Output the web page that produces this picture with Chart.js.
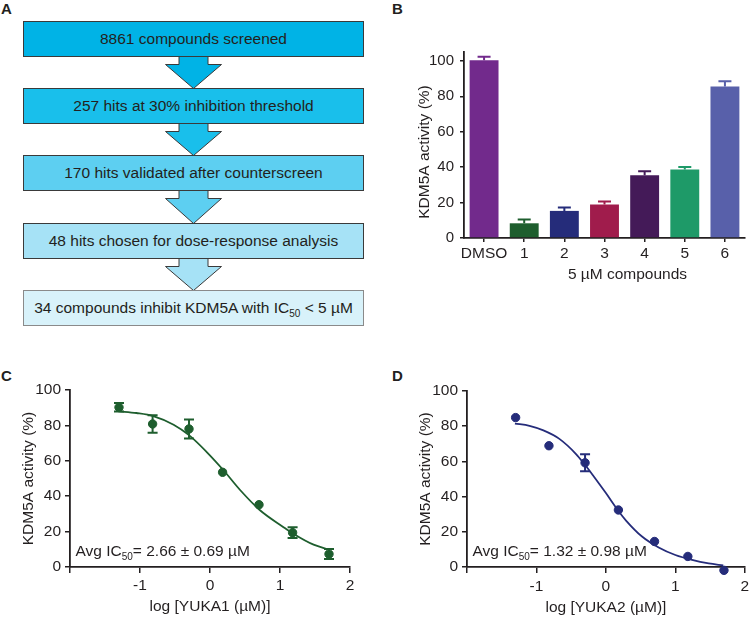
<!DOCTYPE html>
<html>
<head>
<meta charset="utf-8">
<script src="https://cdn.jsdelivr.net/npm/chart.js@4.4.1/dist/chart.umd.min.js"></script>
<style>
  html, body { margin: 0; padding: 0; background: #fff; }
  body { width: 750px; height: 618px; position: relative; overflow: hidden;
         font-family: "Liberation Sans", Arial, sans-serif; color: #231f20; }
  .lbl { position: absolute; font-weight: bold; font-size: 15px; line-height: 15px; }
  .box { position: absolute; left: 23px; width: 341px; height: 36px; box-sizing: border-box;
         border: 1px solid #3a3a3a; display: flex; align-items: center; justify-content: center;
         font-size: 15.5px; z-index: 2; }
  .box sub { font-size: 10px; vertical-align: -4px; line-height: 0; }
  #arrows { position: absolute; left: 0; top: 0; z-index: 1; }
  canvas { position: absolute; }
</style>
</head>
<body>
<div class="lbl" style="left:1px;top:1px">A</div>
<div class="lbl" style="left:392px;top:1px">B</div>
<div class="lbl" style="left:1px;top:368px">C</div>
<div class="lbl" style="left:392px;top:368px">D</div>

<svg id="arrows" width="375" height="340"></svg>

<canvas id="chartB" width="350" height="290" style="left:400px;top:0"></canvas>
<canvas id="chartC" width="375" height="248" style="left:0;top:370px"></canvas>
<canvas id="chartD" width="375" height="248" style="left:375px;top:370px"></canvas>

<script>
// ---- panel A: screening funnel
const flowSteps = [
  '8861 compounds screened',
  '257 hits at 30% inhibition threshold',
  '170 hits validated after counterscreen',
  '48 hits chosen for dose-response analysis',
  '34 compounds inhibit KDM5A with IC<sub>50</sub> &lt; 5 µM'
];
const flowColors = ['#00b3e6', '#19bfeb', '#5dcff1', '#a6e2f6', '#d8f2fa'];

// ---- panel B: single dose screen (5 µM)
const compounds = ['DMSO', '1', '2', '3', '4', '5', '6'];
const activity = [100.4, 8.3, 15.3, 18.9, 35.4, 38.6, 85.5];
const activitySem = [1.9, 2.1, 1.9, 1.7, 2.3, 1.5, 3.0];
const barColors = ['#722a8c', '#1e5e2e', '#252c7a', '#a01c4c', '#441a58', '#1e9a68', '#5860aa'];
const activityTicks = [0, 20, 40, 60, 80, 100];

// ---- panels C/D: dose response, x = log concentration (µM)
const logConc = [-1.30, -0.82, -0.30, 0.18, 0.70, 1.18, 1.70];
const yuka1 = [90.2, 80.8, 78.0, 53.5, 35.2, 19.4, 7.3];
const yuka1Err = [2.4, 5.0, 5.4, 0, 0, 3.0, 2.8];
const yuka1FitX = [-1.31, -1.05, -0.81, -0.52, -0.30, -0.05, 0.19, 0.43, 0.71, 1.05, 1.19, 1.48, 1.70];
const yuka1FitY = [88.0, 87.0, 85.3, 80.4, 74.5, 65.1, 54.8, 43.5, 32.2, 22.5, 18.8, 12.6, 9.8];
const yuka2 = [84.9, 68.9, 59.2, 32.4, 14.5, 6.0, -1.9];
const yuka2Err = [0, 0, 4.8, 0, 0, 0, 0];
const yuka2FitX = [-1.31, -1.10, -0.90, -0.67, -0.43, -0.31, -0.19, 0, 0.17, 0.29, 0.52, 0.76, 1.00, 1.24, 1.48, 1.69];
const yuka2FitY = [81.5, 80.2, 77.6, 72.8, 64.2, 58.5, 52.3, 42.0, 32.4, 26.4, 17.3, 11.1, 6.8, 4.0, 2.0, 0.9];
const ic50Yuka1 = '2.66 ± 0.69 µM';
const ic50Yuka2 = '1.32 ± 0.98 µM';

const ink = '#231f20';
const green = '#1e5e2e';
const navy = '#252c7a';
const yTitle = 'KDM5A activity (%)';

// build the funnel
const boxTops = [21, 88, 155, 223, 290];
flowSteps.forEach((txt, i) => {
  const d = document.createElement('div');
  d.className = 'box';
  d.style.top = boxTops[i] + 'px';
  d.style.background = flowColors[i];
  if (i === 4) d.style.borderColor = '#8a8a8a';
  d.innerHTML = '<span>' + txt + '</span>';
  document.body.appendChild(d);
});
const svg = document.getElementById('arrows');
for (let i = 0; i < boxTops.length - 1; i++) {
  const y0 = boxTops[i] + 35, y1 = y0 + 8.5, tip = boxTops[i + 1] + 0.5, cx = 193.5;
  const pts = [[cx - 14.5, y0], [cx + 14.5, y0], [cx + 14.5, y1], [cx + 28, y1], [cx, tip],
               [cx - 28, y1], [cx - 14.5, y1]].map(p => p.join(',')).join(' ');
  const poly = document.createElementNS('http://www.w3.org/2000/svg', 'polygon');
  poly.setAttribute('points', pts);
  poly.setAttribute('fill', flowColors[i]);
  poly.setAttribute('stroke', '#3a3a3a');
  poly.setAttribute('stroke-width', '1');
  svg.appendChild(poly);
}

Chart.defaults.font.family = '"Liberation Sans", Arial, sans-serif';
Chart.defaults.color = ink;
const fam = Chart.defaults.font.family;

// error bars, drawn from the y scale of each chart
const errorBars = {
  id: 'errorBars',
  afterDatasetsDraw(chart, args, opts) {
    const ctx = chart.ctx;
    const ys = chart.scales.y;
    chart.data.datasets.forEach((ds, i) => {
      if (!ds.errors) return;
      const meta = chart.getDatasetMeta(i);
      ctx.save();
      ctx.lineWidth = opts.lineWidth || 2;
      meta.data.forEach((el, j) => {
        const e = ds.errors[j];
        if (!e) return;
        const raw = ds.data[j];
        const v = typeof raw === 'object' ? raw.y : raw;
        const top = ys.getPixelForValue(v + e);
        const bot = opts.upOnly ? ys.getPixelForValue(v) : ys.getPixelForValue(v - e);
        const half = opts.capWidth / 2;
        ctx.strokeStyle = Array.isArray(ds.backgroundColor) ? ds.backgroundColor[j] : ds.backgroundColor;
        ctx.beginPath();
        ctx.moveTo(el.x, bot); ctx.lineTo(el.x, top);
        ctx.moveTo(el.x - half, top); ctx.lineTo(el.x + half, top);
        if (!opts.upOnly) { ctx.moveTo(el.x - half, bot); ctx.lineTo(el.x + half, bot); }
        ctx.stroke();
      });
      ctx.restore();
    });
  }
};

// "Avg IC50 = ..." note in the lower left of the plot
const icNote = {
  id: 'icNote',
  afterDraw(chart, args, opts) {
    if (!opts.text) return;
    const {ctx, chartArea} = chart;
    let x = chartArea.left + 5.5;
    const y = chartArea.bottom - 11.5;
    ctx.save();
    ctx.fillStyle = ink;
    ctx.textBaseline = 'alphabetic';
    ctx.font = '15.5px ' + fam;
    ctx.fillText('Avg IC', x, y);
    x += ctx.measureText('Avg IC').width;
    ctx.font = '10px ' + fam;
    ctx.fillText('50', x, y + 4);
    x += ctx.measureText('50').width;
    ctx.font = '15.5px ' + fam;
    ctx.fillText('= ' + opts.text, x, y);
    ctx.restore();
  }
};

// panel B axis titles sit a bit off the axis centres
const shiftedTitles = {
  id: 'shiftedTitles',
  afterDraw(chart, args, opts) {
    if (!opts.x) return;
    const {ctx, chartArea} = chart;
    ctx.save();
    ctx.fillStyle = ink;
    ctx.font = '15.5px ' + fam;
    ctx.textAlign = 'center';
    ctx.textBaseline = 'middle';
    ctx.fillText(opts.x, (chartArea.left + chartArea.right) / 2 + opts.xShift, opts.xAt);
    ctx.translate(opts.yAt, (chartArea.top + chartArea.bottom) / 2 + opts.yShift);
    ctx.rotate(-Math.PI / 2);
    ctx.fillText(opts.y, 0, 0);
    ctx.restore();
  }
};

function yAxis(o) {
  return {
    min: o.min, max: o.max,
    afterFit: s => { s.width = o.width; s.paddingTop = 0; s.paddingBottom = 0; },
    afterBuildTicks: s => { s.ticks = activityTicks.map(v => ({ value: v })); },
    ticks: { stepSize: 20, padding: o.tickPad, color: ink, font: { size: o.tickSize } },
    grid: { drawOnChartArea: false, tickLength: o.tickLen, color: ink, lineWidth: 1.5 },
    border: { color: ink, width: 1.8 },
    title: { display: o.titlePad !== undefined, text: yTitle, color: ink, font: { size: 15.5 },
             padding: { top: o.titlePad || 0, bottom: 0 } }
  };
}

function logAxis(title, o) {
  return {
    type: 'linear', min: -2, max: 2,
    afterFit: s => { s.height = o.height; s.paddingLeft = 0; s.paddingRight = 0; },
    ticks: { stepSize: 1, padding: o.tickPad, color: ink, font: { size: 15.5 }, maxRotation: 0,
             callback: v => (v === -2 ? '' : v) },
    grid: { drawOnChartArea: false, tickLength: 6, color: ink, lineWidth: 1.5 },
    border: { color: ink, width: 1.8 },
    title: { display: true, text: title, color: ink, font: { size: 15.5 },
             padding: { top: 0, bottom: o.titlePad } }
  };
}

// panel B
new Chart(document.getElementById('chartB'), {
  type: 'bar',
  data: {
    labels: compounds,
    datasets: [{
      data: activity,
      errors: activitySem,
      backgroundColor: barColors,
      borderWidth: 0,
      categoryPercentage: 0.8,
      barPercentage: 0.9
    }]
  },
  options: {
    responsive: false, animation: false, events: [],
    layout: { padding: { left: 0, top: 52, right: 5, bottom: 0 } },
    plugins: { legend: { display: false }, tooltip: { enabled: false },
               errorBars: { capWidth: 13, upOnly: true, lineWidth: 2 },
               shiftedTitles: { x: '5 µM compounds', xShift: 23, xAt: 275, y: yTitle, yAt: 25, yShift: 7 } },
    scales: {
      x: {
        afterFit: s => { s.height = 52; s.paddingLeft = 0; s.paddingRight = 0; },
        offset: true,
        grid: { offset: false, drawOnChartArea: false, tickLength: 4, color: ink, lineWidth: 1.5 },
        border: { color: ink, width: 1.8 },
        ticks: { padding: 2, color: ink, font: { size: 15.5 }, maxRotation: 0, minRotation: 0, autoSkip: false }
      },
      y: yAxis({ min: 0, max: 105, width: 64, tickPad: 6, tickLen: 4, tickSize: 15 })
    }
  },
  plugins: [errorBars, shiftedTitles]
});

function doseChart(id, fitX, fitY, ys, errs, color, xTitle, note, o) {
  return new Chart(document.getElementById(id), {
    type: 'scatter',
    data: {
      datasets: [
        { type: 'line', data: fitX.map((x, i) => ({ x, y: fitY[i] })), borderColor: color,
          borderWidth: 1.8, pointRadius: 0, cubicInterpolationMode: 'monotone', fill: false, clip: false },
        { data: logConc.map((x, i) => ({ x, y: ys[i] })), errors: errs, backgroundColor: color,
          borderColor: color, pointRadius: 4.2, clip: false }
      ]
    },
    options: {
      responsive: false, animation: false, events: [],
      layout: { padding: { left: 0, top: o.top, right: o.right, bottom: 0 } },
      plugins: { legend: { display: false }, tooltip: { enabled: false },
                 errorBars: { capWidth: 10, lineWidth: 2 }, icNote: { text: note } },
      scales: {
        x: logAxis(xTitle, { height: 51, tickPad: o.xTickPad, titlePad: o.xTitlePad }),
        y: yAxis({ min: 0, max: 100, width: o.yWidth, tickPad: 4, tickLen: 5, tickSize: 15.5, titlePad: o.yTitlePad })
      }
    },
    plugins: [errorBars, icNote]
  });
}

doseChart('chartC', yuka1FitX, yuka1FitY, yuka1, yuka1Err, green, 'log [YUKA1 (µM)]', ic50Yuka1,
  { top: 20, right: 25, yWidth: 70, xTickPad: 3, xTitlePad: 1.7, yTitlePad: 19.7 });
doseChart('chartD', yuka2FitX, yuka2FitY, yuka2, yuka2Err, navy, 'log [YUKA2 (µM)]', ic50Yuka2,
  { top: 21, right: 3, yWidth: 92, xTickPad: 4, xTitlePad: 0.5, yTitlePad: 41.4 });
</script>
</body>
</html>
